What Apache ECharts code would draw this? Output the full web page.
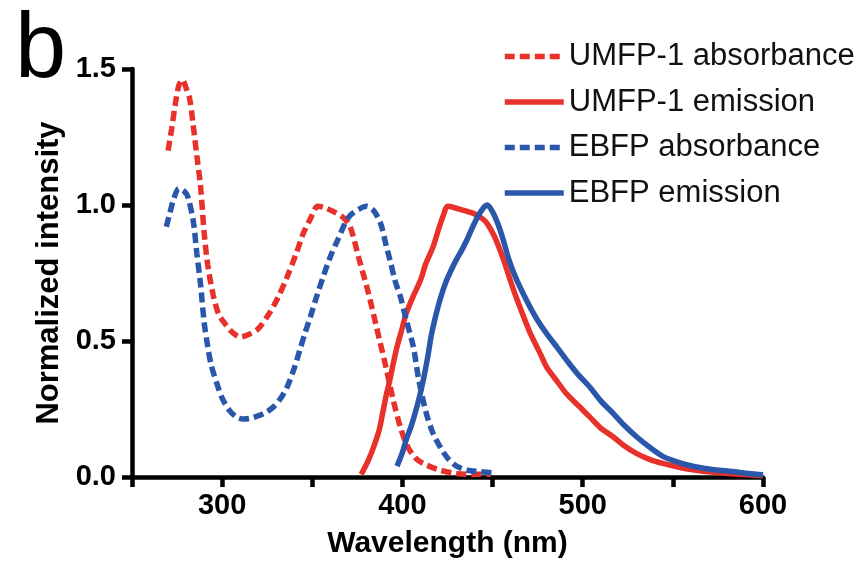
<!DOCTYPE html>
<html>
<head>
<meta charset="utf-8">
<script src="https://cdn.jsdelivr.net/npm/echarts@6/dist/echarts.min.js"></script>
<style>
  html, body { margin: 0; padding: 0; background: #fff; }
  #chart { width: 861px; height: 572px; }
</style>
</head>
<body>
<div id="chart"></div>
<script>
// wavelength (nm) and normalized intensity
var umfpAbsNm = [270, 272, 274, 276, 278, 280, 282, 284, 286, 288, 290, 292, 295, 298, 302, 306, 310, 315, 320, 326, 331, 336, 341, 345, 349, 353, 357, 362, 367, 371, 376, 381, 386, 391, 395, 399, 403, 408, 413, 421, 430, 440, 449];
var umfpAbs = [1.20, 1.28, 1.37, 1.44, 1.46, 1.43, 1.39, 1.29, 1.18, 1.07, 0.90, 0.78, 0.67, 0.60, 0.56, 0.53, 0.515, 0.525, 0.545, 0.60, 0.66, 0.735, 0.82, 0.895, 0.95, 0.995, 0.99, 0.975, 0.955, 0.92, 0.80, 0.68, 0.54, 0.40, 0.28, 0.18, 0.11, 0.065, 0.045, 0.025, 0.013, 0.01, 0.01];

var umfpEmNm = [377, 378, 381, 384, 387, 389, 391, 393, 395, 397, 400, 402, 406, 410, 413, 417, 420, 423, 425, 429, 434, 439, 443, 446, 449, 452, 456, 461, 466, 471, 476, 480, 486, 491, 498, 504, 510, 517, 523, 530, 537, 545, 554, 563, 573, 583, 592, 600];
var umfpEm = [0.01, 0.02, 0.06, 0.11, 0.17, 0.233, 0.30, 0.356, 0.42, 0.478, 0.55, 0.60, 0.665, 0.723, 0.785, 0.846, 0.91, 0.968, 0.995, 0.99, 0.98, 0.97, 0.956, 0.94, 0.91, 0.87, 0.80, 0.70, 0.61, 0.527, 0.46, 0.404, 0.35, 0.306, 0.26, 0.22, 0.18, 0.147, 0.115, 0.086, 0.065, 0.049, 0.035, 0.025, 0.017, 0.012, 0.008, 0.005];

var ebfpAbsNm = [269, 271, 273, 276, 279, 281, 284, 286, 288, 290, 292, 294, 297, 300, 304, 308, 312, 317, 323, 328, 332, 336, 340, 343, 346, 349, 352, 356, 360, 364, 368, 371, 376, 380, 384, 388, 391, 393, 396, 399, 402, 406, 409, 413, 417, 421, 425, 430, 436, 443, 451];
var ebfpAbs = [0.92, 0.97, 1.02, 1.06, 1.05, 1.03, 0.94, 0.82, 0.71, 0.57, 0.48, 0.41, 0.345, 0.29, 0.245, 0.22, 0.213, 0.218, 0.233, 0.255, 0.285, 0.33, 0.40, 0.465, 0.53, 0.59, 0.655, 0.735, 0.81, 0.87, 0.93, 0.962, 0.985, 0.995, 0.98, 0.93, 0.85, 0.80, 0.72, 0.66, 0.58, 0.48, 0.36, 0.24, 0.16, 0.11, 0.07, 0.04, 0.025, 0.02, 0.015];

var ebfpEmNm = [397, 400, 402, 405, 408, 410, 412, 414, 416, 418, 421, 424, 427, 430, 433, 436, 439, 442, 445, 447, 450, 453, 456, 459, 463, 467, 472, 476, 480, 486, 491, 497, 504, 510, 517, 523, 530, 537, 545, 554, 563, 573, 583, 592, 600];
var ebfpEm = [0.04, 0.09, 0.135, 0.19, 0.257, 0.31, 0.37, 0.44, 0.52, 0.58, 0.655, 0.715, 0.76, 0.80, 0.835, 0.875, 0.92, 0.96, 0.99, 1.0, 0.975, 0.93, 0.87, 0.80, 0.73, 0.674, 0.61, 0.565, 0.527, 0.475, 0.43, 0.38, 0.33, 0.28, 0.233, 0.19, 0.147, 0.11, 0.074, 0.052, 0.037, 0.027, 0.02, 0.013, 0.008];

var seriesNames = ['UMFP-1 absorbance', 'UMFP-1 emission', 'EBFP absorbance', 'EBFP emission'];
var xTicks = [300, 400, 500, 600];

var RED = '#e8312b';
var BLUE = '#2b57aa';
var FONT = 'Liberation Sans, Arial, sans-serif';

function pairs(xs, ys) {
  return xs.map(function (x, i) { return [x, ys[i]]; });
}

function makeSeries(name, xs, ys, color, dashed) {
  return {
    name: name,
    type: 'line',
    data: pairs(xs, ys),
    showSymbol: false,
    symbol: 'none',
    smooth: 0.3,
    lineStyle: { color: color, width: 5.5, type: dashed ? [10, 5] : 'solid', cap: 'butt' },
    itemStyle: { color: color },
    animation: false
  };
}

var chart = echarts.init(document.getElementById('chart'));
chart.setOption({
  backgroundColor: '#fff',
  animation: false,
  title: {
    text: 'b',
    left: 10,
    top: 1,
    textStyle: { fontFamily: FONT, fontSize: 92, fontWeight: 'normal', color: '#000' }
  },
  legend: {
    orient: 'vertical',
    left: 502,
    top: 41,
    padding: 0,
    itemGap: 14.5,
    itemWidth: 59,
    itemHeight: 14,
    data: seriesNames,
    itemStyle: { opacity: 0 },
    lineStyle: { width: 5.5 },
    textStyle: { fontFamily: FONT, fontSize: 31, color: '#111' }
  },
  grid: { left: 132, right: 98, top: 69, bottom: 95, containLabel: false },
  xAxis: {
    type: 'value',
    min: 250,
    max: 600,
    interval: 50,
    name: 'Wavelength (nm)',
    nameLocation: 'middle',
    nameGap: 52,
    nameTextStyle: { fontFamily: FONT, fontSize: 30, fontWeight: 'bold', color: '#000' },
    axisLine: { lineStyle: { color: '#000', width: 4.5 } },
    axisTick: { length: 10, lineStyle: { color: '#000', width: 4.5 } },
    axisLabel: {
      fontFamily: FONT, fontSize: 29, fontWeight: 'bold', color: '#000', margin: 14,
      formatter: function (v) { return xTicks.indexOf(v) >= 0 ? String(v) : ''; }
    },
    splitLine: { show: false }
  },
  yAxis: {
    type: 'value',
    min: 0,
    max: 1.5,
    interval: 0.5,
    name: 'Normalized intensity',
    nameLocation: 'middle',
    nameGap: 62,
    nameTextStyle: { fontFamily: FONT, fontSize: 31, fontWeight: 'bold', color: '#000' },
    axisLine: { show: true, lineStyle: { color: '#000', width: 4.5 } },
    axisTick: { show: true, length: 10, lineStyle: { color: '#000', width: 4.5 } },
    axisLabel: {
      fontFamily: FONT, fontSize: 29, fontWeight: 'bold', color: '#000', margin: 16,
      formatter: function (v) { return v.toFixed(1); }
    },
    splitLine: { show: false }
  },
  series: [
    makeSeries(seriesNames[0], umfpAbsNm, umfpAbs, RED, true),
    makeSeries(seriesNames[1], umfpEmNm, umfpEm, RED, false),
    makeSeries(seriesNames[2], ebfpAbsNm, ebfpAbs, BLUE, true),
    makeSeries(seriesNames[3], ebfpEmNm, ebfpEm, BLUE, false)
  ]
});
</script>
</body>
</html>
